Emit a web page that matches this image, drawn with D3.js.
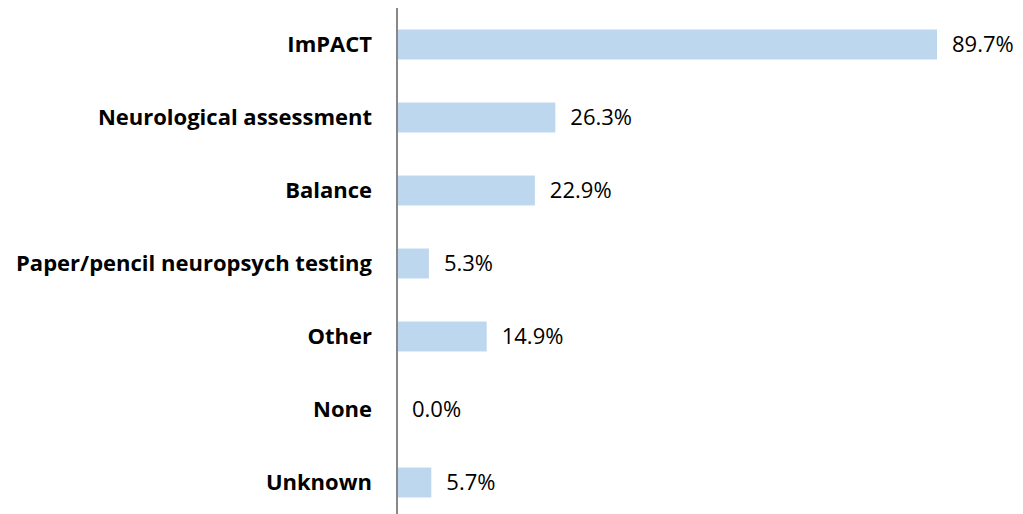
<!DOCTYPE html>
<html>
<head>
<meta charset="utf-8">
<script src="https://cdn.jsdelivr.net/npm/d3@7"></script>
<style>
  body { margin: 0; background: #fff; }
  svg { display: block; font-family: "Open Sans", sans-serif; }
</style>
</head>
<body>
<svg id="chart" width="1023" height="514"></svg>
<script>
var categories = ["ImPACT", "Neurological assessment", "Balance", "Paper/pencil neuropsych testing", "Other", "None", "Unknown"];
var values = [89.7, 26.3, 22.9, 5.3, 14.9, 0.0, 5.7];

var svg = d3.select("#chart");

var x0 = 397;

var x = d3.scaleLinear()
    .domain([0, 89.7])
    .range([x0, 937]);

var y = d3.scaleBand()
    .domain(categories)
    .range([8, 519])
    .paddingInner(0.59)
    .paddingOuter(0.295);

var data = categories.map(function(c, i) { return {name: c, value: values[i]}; });

svg.append("g")
    .selectAll("rect")
    .data(data)
    .enter().append("rect")
    .attr("x", x(0) + 1)
    .attr("y", function(d) { return y(d.name); })
    .attr("width", function(d) { return Math.max(0, x(d.value) - x(0) - 1); })
    .attr("height", y.bandwidth())
    .attr("fill", "#bdd7ee");

// axis line
svg.append("line")
    .attr("x1", x0).attr("x2", x0)
    .attr("y1", 8).attr("y2", 514)
    .attr("stroke", "#888")
    .attr("stroke-width", 2);

// category labels
svg.append("g")
    .selectAll("text")
    .data(data)
    .enter().append("text")
    .attr("x", 372)
    .attr("y", function(d) { return y(d.name) + y.bandwidth() / 2; })
    .attr("dy", "0.35em")
    .attr("text-anchor", "end")
    .attr("font-weight", "bold")
    .attr("font-size", 22)
    .attr("fill", "#000")
    .text(function(d) { return d.name; });

// value labels
svg.append("g")
    .selectAll("text")
    .data(data)
    .enter().append("text")
    .attr("x", function(d) { return x(d.value) + 15; })
    .attr("y", function(d) { return y(d.name) + y.bandwidth() / 2; })
    .attr("dy", "0.35em")
    .attr("font-size", 22)
    .attr("fill", "#000")
    .text(function(d) { return d.value.toFixed(1) + "%"; });
</script>
</body>
</html>
